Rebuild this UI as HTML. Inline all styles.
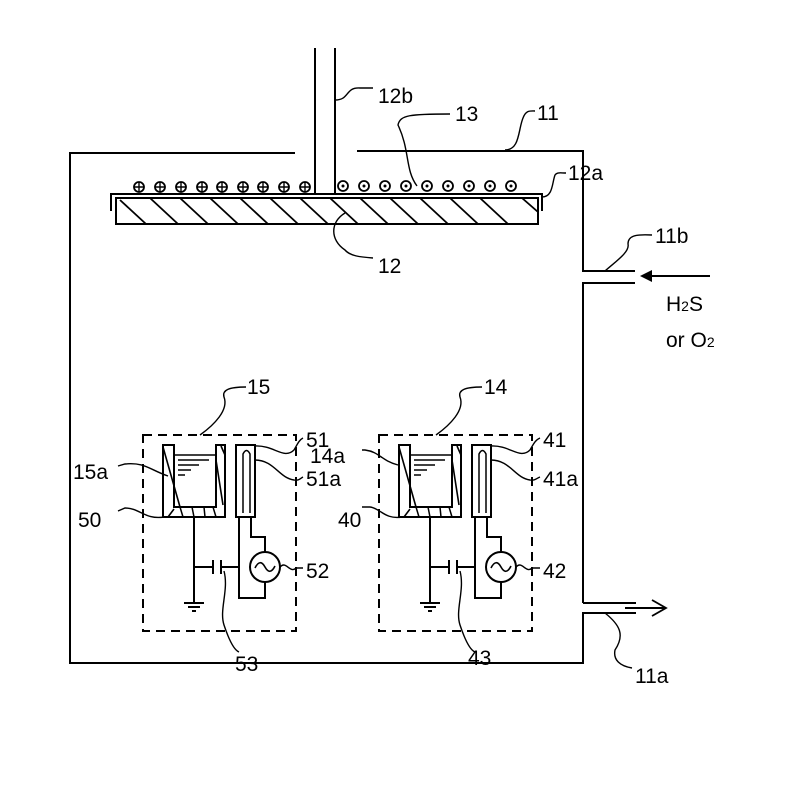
<!DOCTYPE html>
<html><head><meta charset="utf-8"><style>
html,body{margin:0;padding:0;background:#fff;}
svg{display:block;}
text{font-family:"Liberation Sans",Arial,sans-serif;font-size:21px;fill:#000;}
</style></head><body>
<svg width="792" height="800" viewBox="0 0 792 800" xmlns="http://www.w3.org/2000/svg">
<defs>
<g id="unit" fill="none" stroke="#000" stroke-width="2">
  <rect x="379" y="435" width="153" height="196" stroke-dasharray="9,6"/>
  <path d="M399 445 H410 V507 H452 V445 H461 V517 H399 Z"/>
  <line x1="399" y1="447" x2="416" y2="507" stroke-width="1.6"/>
  <line x1="404" y1="517" x2="410" y2="509" stroke-width="1.6"/>
  <line x1="452" y1="460" x2="459" y2="505" stroke-width="1.6"/>
  <line x1="457" y1="446" x2="461" y2="455" stroke-width="1.6"/>
  <line x1="416" y1="507" x2="419" y2="517" stroke-width="1.5"/>
  <line x1="428" y1="507" x2="430" y2="517" stroke-width="1.5"/>
  <line x1="440" y1="507" x2="441" y2="517" stroke-width="1.5"/>
  <line x1="449" y1="507" x2="452" y2="517" stroke-width="1.5"/>
  <line x1="410" y1="455" x2="452" y2="455" stroke-width="1.5"/>
  <line x1="414" y1="460" x2="445" y2="460" stroke-width="1.5"/>
  <line x1="414" y1="465" x2="435" y2="465" stroke-width="1.5"/>
  <line x1="414" y1="470" x2="427" y2="470" stroke-width="1.5"/>
  <line x1="414" y1="475" x2="421" y2="475" stroke-width="1.5"/>
  <rect x="472" y="445" width="19" height="72"/>
  <path d="M479 513 V454 Q482.5 447 486 454 V513" stroke-width="1.5"/>
  <path d="M430 517 V603"/>
  <path d="M420 603 H440 M424 607 H436 M428 611 H432" stroke-width="2"/>
  <path d="M430 567 H449 M449 560 V574 M457 560 V574 M457 567 H475"/>
  <path d="M475 517 V598 H501 V582 M501 552 V537 H487 V517"/>
  <circle cx="501" cy="567" r="15"/>
  <path d="M491 568 Q496 558 501 567 Q506 576 511 566" stroke-width="1.6"/>
</g>
</defs>
<g fill="none" stroke="#000" stroke-width="2">
  <path d="M295 153 H70 V663 H583 V613 H636"/>
  <path d="M357 151 H583 V271 H635"/>
  <path d="M583 603 V283 H635"/>
  <path d="M583 603 H636"/>
  <line x1="625" y1="608" x2="666" y2="608"/>
  <path d="M652 600 L666 608 L652 616" stroke-width="1.8"/>
  <line x1="710" y1="276" x2="650" y2="276"/>
  <line x1="315" y1="48" x2="315" y2="194"/>
  <line x1="335" y1="48" x2="335" y2="194"/>
  <path d="M111 211 V194 H542 V211"/>
  <rect x="116" y="198" width="422" height="26"/>
  <g stroke-width="1.8">
    <line x1="120" y1="200" x2="146" y2="224"/>
    <line x1="150" y1="198" x2="178" y2="224"/>
    <line x1="180" y1="198" x2="208" y2="224"/>
    <line x1="210" y1="198" x2="238" y2="224"/>
    <line x1="240" y1="198" x2="268" y2="224"/>
    <line x1="270" y1="198" x2="298" y2="224"/>
    <line x1="300" y1="198" x2="328" y2="224"/>
    <line x1="330" y1="198" x2="358" y2="224"/>
    <line x1="360" y1="198" x2="388" y2="224"/>
    <line x1="390" y1="198" x2="418" y2="224"/>
    <line x1="420" y1="198" x2="448" y2="224"/>
    <line x1="450" y1="198" x2="478" y2="224"/>
    <line x1="480" y1="198" x2="508" y2="224"/>
    <line x1="522" y1="198" x2="538" y2="212"/>
  </g>
  <g stroke-width="1.8">
    <circle cx="139" cy="187" r="5"/><circle cx="160" cy="187" r="5"/><circle cx="181" cy="187" r="5"/>
    <circle cx="202" cy="187" r="5"/><circle cx="222" cy="187" r="5"/><circle cx="243" cy="187" r="5"/>
    <circle cx="263" cy="187" r="5"/><circle cx="284" cy="187" r="5"/><circle cx="305" cy="187" r="5"/>
    <path d="M134 187h10M139 182v10M155 187h10M160 182v10M176 187h10M181 182v10M197 187h10M202 182v10M217 187h10M222 182v10M238 187h10M243 182v10M258 187h10M263 182v10M279 187h10M284 182v10M300 187h10M305 182v10" stroke-width="1.4"/>
    <circle cx="343" cy="186" r="5"/><circle cx="364" cy="186" r="5"/><circle cx="385" cy="186" r="5"/>
    <circle cx="406" cy="186" r="5"/><circle cx="427" cy="186" r="5"/><circle cx="448" cy="186" r="5"/>
    <circle cx="469" cy="186" r="5"/><circle cx="490" cy="186" r="5"/><circle cx="511" cy="186" r="5"/>
  </g>
  <g fill="#000" stroke="none">
    <circle cx="343" cy="186" r="1.5"/><circle cx="364" cy="186" r="1.5"/><circle cx="385" cy="186" r="1.5"/>
    <circle cx="406" cy="186" r="1.5"/><circle cx="427" cy="186" r="1.5"/><circle cx="448" cy="186" r="1.5"/>
    <circle cx="469" cy="186" r="1.5"/><circle cx="490" cy="186" r="1.5"/><circle cx="511" cy="186" r="1.5"/>
  </g>
  <g stroke-width="1.4">
    <path d="M335 100 C350 100 345 87 360 88 H373"/>
    <path d="M417 186 C405 170 410 150 398 125 C400 115 410 114 450 114"/>
    <path d="M505 150 C520 150 518 130 523 118 C526 110 530 111 535 111"/>
    <path d="M542 197 C553 197 552 183 555 175 C557 172 560 173 566 173"/>
    <path d="M605 271 C615 262 630 252 628 244 C628 236 635 234 652 235"/>
    <path d="M345 213 C330 222 330 240 345 250 C350 256 360 257 373 258"/>
    <path d="M654 276 L642 276"/>
  </g>
  <path d="M640 276 L652 270 L652 282 Z" fill="#000" stroke="none"/>
  <path d="M605 613 C620 625 625 635 615 650 C613 660 620 666 632 668" stroke-width="1.4"/>
</g>
<use href="#unit"/>
<use href="#unit" transform="translate(-236,0)"/>
<g fill="none" stroke="#000" stroke-width="1.4">
  <path d="M436 435 C450 425 465 410 460 397 C458 390 465 387 482 387"/>
  <path d="M491 446 C510 445 520 460 530 450 C533 445 535 440 540 438"/>
  <path d="M491 460 C510 460 515 478 530 480 C535 481 537 478 540 477"/>
  <path d="M516 567 C522 560 526 574 532 568 L540 568"/>
  <path d="M460 571 C465 590 455 610 460 625 C465 640 470 650 475 652"/>
  <path d="M398 465 C380 460 380 452 365 450 L362 450"/>
  <path d="M402 517 C385 520 380 508 370 507 L362 507"/>
  <path d="M200 435 C214 425 229 410 224 397 C222 390 229 387 246 387"/>
  <path d="M255 446 C274 445 284 460 294 450 C297 445 299 440 303 438"/>
  <path d="M255 460 C274 460 279 478 294 480 C299 481 301 478 303 477"/>
  <path d="M280 567 C286 560 290 574 296 568 L303 568"/>
  <path d="M224 571 C229 590 219 610 224 625 C229 640 234 650 239 652"/>
  <path d="M168 476 C150 470 145 462 125 464 L118 466"/>
  <path d="M164 517 C145 520 140 508 125 508 L118 511"/>
</g>
<text x="378" y="103">12b</text>
<text x="455" y="121">13</text>
<text x="537" y="120">11</text>
<text x="568" y="180">12a</text>
<text x="655" y="243">11b</text>
<text x="378" y="273">12</text>
<text x="666" y="311">H<tspan font-size="14">2</tspan>S</text>
<text x="666" y="347">or O<tspan font-size="14">2</tspan></text>
<text x="247" y="394">15</text>
<text x="484" y="394">14</text>
<text x="306" y="447">51</text>
<text x="306" y="486">51a</text>
<text x="73" y="479">15a</text>
<text x="78" y="527">50</text>
<text x="306" y="578">52</text>
<text x="235" y="671">53</text>
<text x="543" y="447">41</text>
<text x="543" y="486">41a</text>
<text x="310" y="463">14a</text>
<text x="338" y="527">40</text>
<text x="543" y="578">42</text>
<text x="468" y="665">43</text>
<text x="635" y="683">11a</text>
</svg>
</body></html>
